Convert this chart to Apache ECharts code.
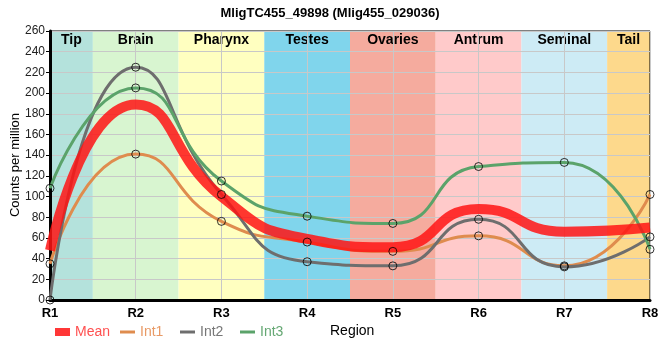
<!DOCTYPE html>
<html><head><meta charset="utf-8">
<script src="https://cdn.jsdelivr.net/npm/echarts@6/dist/echarts.min.js"></script>
<style>html,body{margin:0;padding:0;background:#fff}#c{width:660px;height:360px}</style>
</head><body><div id="c"></div>
<script>
var categories = ['R1','R2','R3','R4','R5','R6','R7','R8'];
var regions = ['Tip','Brain','Pharynx','Testes','Ovaries','Antrum','Seminal','Tail'];
var regionColors = ['#b4e2dc','#d8f5d0','#ffffc0','#80d5ec','#f5ab9e','#ffcaca','#cdebf5','#fdd98c'];
var meanVals = [48,189,100,59,51,88,66,70];
var int1Vals = [35,141,76,56,47,62,33,102];
var int2Vals = [0,225,102,37,33,78,32,61];
var int3Vals = [108,205,115,81,74,129,133,49];
var seriesNames = ['Mean','Int1','Int2','Int3'];
var yTicks = {min:0, max:260, step:20};
var xAxisName = 'Region';
var yAxisName = 'Counts per million';

var FONT = 'Liberation Sans';
function pts(arr){ return arr.map(function(v,i){ return [i, v]; }); }

var chart = echarts.init(document.getElementById('c'), null, {renderer:'canvas'});
var lineColors = {Mean:'rgba(255,20,20,0.85)', Int1:'#df8c4e', Int2:'#6e6e6e', Int3:'#5ba36a'};
var textColors = {Mean:'#ff5050', Int1:'#e89a66', Int2:'#777777', Int3:'#66a874'};
var legendLeft = {Mean:55, Int1:120, Int2:180, Int3:240};

function lineSeries(name, arr, width){
  return {name:name, type:'line', data:pts(arr), smooth:0.55, showSymbol:false, z:2,
    lineStyle:{color:lineColors[name], width:width, cap:'butt'}, itemStyle:{color:lineColors[name]},
    emphasis:{disabled:true}};
}
function markerSeries(arr){
  return {type:'scatter', data:pts(arr), symbol:'circle', symbolSize:8, z:5, clip:false,
    itemStyle:{color:'rgba(0,0,0,0)', borderColor:'#000', borderWidth:1}, emphasis:{disabled:true}, silent:true};
}

var legends = seriesNames.map(function(n){
  return {left:legendLeft[n], top:325, itemWidth:15, itemHeight:8, symbolKeepAspect:true, padding:0,
    textStyle:{fontFamily:FONT, fontSize:14, color:textColors[n]},
    data:[{name:n, icon: n==='Mean' ? 'rect' : 'path://M0,0H15V3H0Z'}]};
});

var option = {
  animation:false,
  title:{text:'MligTC455_49898 (Mlig455_029036)', left:'center', top:2,
    textStyle:{fontFamily:FONT, fontSize:13, fontWeight:'bold', color:'#000'}},
  grid:{left:50, right:10, top:31, bottom:60, containLabel:false, outerBoundsMode:'none',
    show:true, borderColor:'#000', borderWidth:1, z:1},
  legend:legends,
  graphic:[
    {type:'text', left:330, top:324, style:{text:xAxisName, font:'14px "Liberation Sans"', fill:'#000'}},
    {type:'text', x:15, y:165, rotation:Math.PI/2, style:{text:yAxisName, align:'center', verticalAlign:'middle', font:'13px "Liberation Sans"', fill:'#000'}}
  ],
  xAxis:{type:'value', min:0, max:categories.length-1, interval:1, z:1,
    axisLine:{lineStyle:{color:'#000', width:3}}, axisTick:{show:false},
    axisLabel:{fontFamily:FONT, fontSize:13, fontWeight:'bold', color:'#000', margin:7,
      formatter:function(v){ return categories[Math.round(v)] || ''; }},
    splitLine:{show:true, lineStyle:{color:'#c8c8c8', width:1}}},
  yAxis:{type:'value', min:yTicks.min, max:yTicks.max, interval:yTicks.step, z:1,
    axisLine:{show:true, lineStyle:{color:'#000', width:3}},
    axisTick:{show:true, length:4, lineStyle:{color:'#000'}},
    axisLabel:{fontFamily:FONT, fontSize:12, color:'#222', margin:5},
    splitLine:{show:true, lineStyle:{color:'#c8c8c8', width:1}}},
  series:[
    {type:'custom', z:0, silent:true, clip:true, data:regions.map(function(r,i){return [i];}),
     renderItem:function(params, api){
       var i = api.value(0), n = categories.length-1;
       var a = api.coord([Math.max(i-0.5,0), yTicks.max]);
       var b = api.coord([Math.min(i+0.5,n), yTicks.min]);
       return {type:'group', children:[
         {type:'rect', shape:{x:a[0], y:a[1], width:b[0]-a[0], height:b[1]-a[1]},
          style:{fill:regionColors[i]}},
         {type:'text', style:{text:regions[i], x:(a[0]+b[0])/2, y:a[1]+9, align:'center', verticalAlign:'middle',
          font:'bold 14px "Liberation Sans"', fill:'#000'}}
       ]};
     }},
    lineSeries('Int1', int1Vals, 3),
    lineSeries('Int2', int2Vals, 3),
    lineSeries('Int3', int3Vals, 3),
    lineSeries('Mean', meanVals, 10),
    markerSeries(int1Vals), markerSeries(int2Vals), markerSeries(int3Vals)
  ]
};
chart.setOption(option);
</script></body></html>
